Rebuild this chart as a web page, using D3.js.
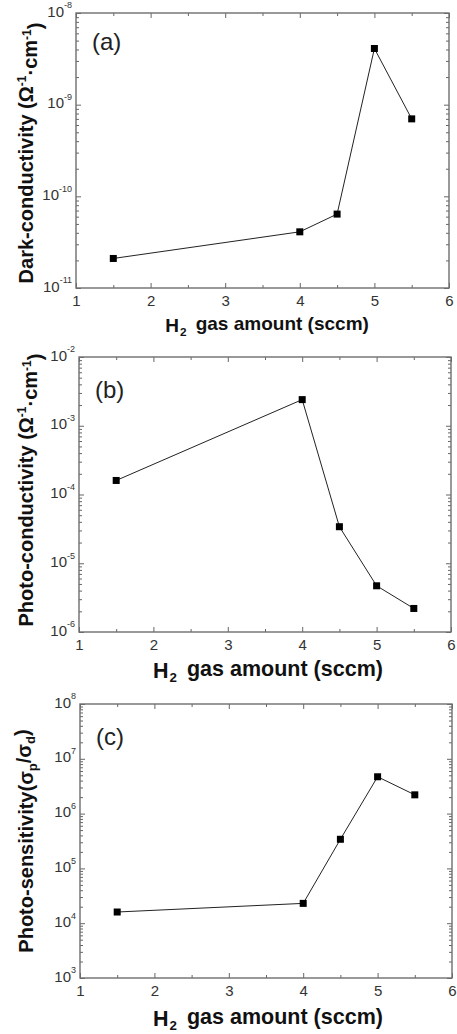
<!DOCTYPE html>
<html>
<head>
<meta charset="utf-8">
<script src="https://cdn.jsdelivr.net/npm/d3@7"></script>
<style>
  body { margin: 0; background: #fff; }
  svg { display: block; }
  text { font-family: "Liberation Sans", Arial, sans-serif; }
</style>
</head>
<body>
<div id="chart"></div>
<script>
// H2 gas amount (sccm)
var h2Flow = [1.5, 4.0, 4.5, 5.0, 5.5];
// (a) dark conductivity (S/cm)
var darkCond = [2.1e-11, 4.1e-11, 6.4e-11, 4.1e-9, 7.0e-10];
// (b) photo conductivity (S/cm)
var photoCond = [1.6e-4, 2.4e-3, 3.4e-5, 4.7e-6, 2.2e-6];
// (c) photo sensitivity
var photoSens = [1.6e4, 2.3e4, 3.4e5, 4.7e6, 2.2e6];

var xTicks = [1, 2, 3, 4, 5, 6];
var xMinor = [1.5, 2.5, 3.5, 4.5, 5.5];
var panelTags = ['(a)', '(b)', '(c)'];
var yDomains = [[-11, -8], [-6, -2], [3, 8]]; // log10 exponents

var W = 457, H = 1034;
var svg = d3.select('#chart').append('svg')
    .attr('width', W).attr('height', H);

var panels = [
  {values: darkCond, box: [76, 13, 449, 288], tagY: 50, titleY: 332, titleX: 267, titleFs: 19, labelY: 153, dom: yDomains[0], tag: panelTags[0], ylab: 'dark'},
  {values: photoCond, box: [79, 357, 451, 632], tagY: 398, titleY: 678, titleX: 268, titleFs: 21.5, labelY: 490, dom: yDomains[1], tag: panelTags[1], ylab: 'photo'},
  {values: photoSens, box: [80, 704, 452, 978], tagY: 745, titleY: 1026, titleX: 268, titleFs: 21.5, labelY: 841, dom: yDomains[2], tag: panelTags[2], ylab: 'sens'}
];

panels.forEach(function(p) {
  var x0 = p.box[0], y0 = p.box[1], x1 = p.box[2], y1 = p.box[3];
  var x = d3.scaleLinear().domain([1, 6]).range([x0, x1]);
  var y = d3.scaleLog().domain([Math.pow(10, p.dom[0]), Math.pow(10, p.dom[1])]).range([y1, y0]);

  var decades = d3.range(p.dom[0], p.dom[1] + 1).map(function(e) { return Math.pow(10, e); });
  var minors = [];
  for (var e = p.dom[0]; e < p.dom[1]; e++) {
    for (var m = 2; m <= 9; m++) minors.push(m * Math.pow(10, e));
  }

  var g = svg.append('g');

  // x axes
  var xb = g.append('g').attr('transform', 'translate(0,' + y1 + ')')
    .call(d3.axisBottom(x).tickValues(xTicks).tickSize(-5).tickPadding(7).tickFormat(d3.format('d')));
  g.append('g').attr('transform', 'translate(0,' + y1 + ')')
    .call(d3.axisBottom(x).tickValues(xMinor).tickSize(-3).tickFormat(''));
  g.append('g').attr('transform', 'translate(0,' + y0 + ')')
    .call(d3.axisTop(x).tickValues(xTicks).tickSize(-5).tickFormat(''));
  g.append('g').attr('transform', 'translate(0,' + y0 + ')')
    .call(d3.axisTop(x).tickValues(xMinor).tickSize(-3).tickFormat(''));

  // y axes
  var yl = g.append('g').attr('transform', 'translate(' + x0 + ',0)')
    .call(d3.axisLeft(y).tickValues(decades).tickSize(-5).tickPadding(4).tickFormat(''));
  g.append('g').attr('transform', 'translate(' + x0 + ',0)')
    .call(d3.axisLeft(y).tickValues(minors).tickSize(-3).tickFormat(''));
  g.append('g').attr('transform', 'translate(' + x1 + ',0)')
    .call(d3.axisRight(y).tickValues(decades).tickSize(-5).tickFormat(''));
  g.append('g').attr('transform', 'translate(' + x1 + ',0)')
    .call(d3.axisRight(y).tickValues(minors).tickSize(-3).tickFormat(''));

  g.selectAll('.domain').remove();
  g.selectAll('.tick line').attr('stroke', '#666').attr('stroke-width', 1);

  xb.selectAll('.tick text').attr('font-size', 15).attr('fill', '#333');

  // 10^n labels
  yl.selectAll('.tick text').each(function(d) {
    var t = d3.select(this).attr('font-size', 15).attr('fill', '#333').attr('dy', '0.2em');
    t.append('tspan').text('10');
    t.append('tspan').attr('font-size', 9).attr('dy', '-0.9em').text(Math.round(Math.log10(d)));
  });

  // frame
  g.append('rect').attr('x', x0).attr('y', y0).attr('width', x1 - x0).attr('height', y1 - y0)
    .attr('fill', 'none').attr('stroke', '#6e6e6e').attr('stroke-width', 1.4);

  // data
  var pts = h2Flow.map(function(v, i) { return [v, p.values[i]]; });
  g.append('path').datum(pts)
    .attr('fill', 'none').attr('stroke', '#222').attr('stroke-width', 1)
    .attr('d', d3.line().x(function(d) { return x(d[0]); }).y(function(d) { return y(d[1]); }));
  g.selectAll('rect.pt').data(pts).enter().append('rect').attr('class', 'pt')
    .attr('x', function(d) { return x(d[0]) - 3.5; })
    .attr('y', function(d) { return y(d[1]) - 3.5; })
    .attr('width', 7).attr('height', 7).attr('fill', '#000');

  // panel tag
  g.append('text').attr('x', x0 + 16).attr('y', p.tagY)
    .attr('font-size', 24).attr('fill', '#222').text(p.tag);

  // x title
  var xt = g.append('text').attr('x', p.titleX).attr('y', p.titleY)
    .attr('text-anchor', 'middle').attr('font-size', p.titleFs).attr('font-weight', 'bold').attr('fill', '#111');
  xt.append('tspan').text('H');
  xt.append('tspan').attr('font-size', p.titleFs * 0.62).attr('dy', '0.3em').attr('dx', 1).text('2');
  xt.append('tspan').attr('dy', '-0.3em').attr('dx', 4).text(' gas amount (sccm)');

  // y title
  var yt = g.append('text').attr('transform', 'translate(33,' + p.labelY + ') rotate(-90)')
    .attr('text-anchor', 'middle').attr('font-size', 20).attr('font-weight', 'bold').attr('fill', '#111');
  if (p.ylab === 'sens') {
    yt.append('tspan').text('Photo-sensitivity(σ');
    yt.append('tspan').attr('font-size', 13).attr('dy', '0.3em').text('p');
    yt.append('tspan').attr('dy', '-0.3em').text('/σ');
    yt.append('tspan').attr('font-size', 13).attr('dy', '0.3em').text('d');
    yt.append('tspan').attr('dy', '-0.3em').text(')');
  } else {
    yt.append('tspan').text(p.ylab === 'dark' ? 'Dark-conductivity (Ω' : 'Photo-conductivity (Ω');
    yt.append('tspan').attr('font-size', 12).attr('dy', '-0.55em').text('-1');
    yt.append('tspan').attr('dy', '0.55em').text('·cm');
    yt.append('tspan').attr('font-size', 12).attr('dy', '-0.55em').text('-1');
    yt.append('tspan').attr('dy', '0.55em').text(')');
  }
});
</script>
</body>
</html>
